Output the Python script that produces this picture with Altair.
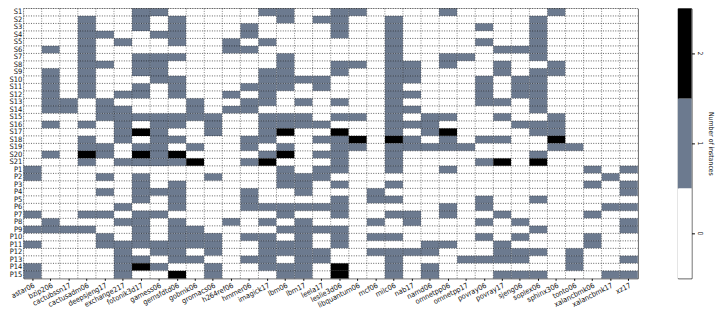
import altair as alt
import pandas as pd

benchmarks = ["astar06", "bzip206", "cactubssn17", "cactusadm06", "deepsjeng17",
              "exchange217", "fotonik3d17", "gamess06", "gemsfdtd06", "gobmk06",
              "gromacs06", "h264ref06", "hmmer06", "imagick17", "lbm06", "lbm17",
              "leela17", "leslie3d06", "libquantum06", "mcf06", "milc06", "nab17",
              "namd06", "omnetpp06", "omnetpp17", "povray06", "povray17", "sjeng06",
              "soplex06", "sphinx306", "tonto06", "xalancbmk06", "xalancbmk17", "xz17"]

row_labels = ["S1", "S2", "S3", "S4", "S5", "S6", "S7", "S8", "S9", "S10", "S11",
              "S12", "S13", "S14", "S15", "S16", "S17", "S18", "S19", "S20", "S21",
              "P1", "P2", "P3", "P4", "P5", "P6", "P7", "P8", "P9", "P10", "P11",
              "P12", "P13", "P14", "P15"]

# number of instances per (row, benchmark); one string per row, one digit per benchmark
counts = [
    "00000 01100 00011 00110 00010 00001 0000",  # S1
    "00010 01010 00001 01100 10000 00010 0000",  # S2
    "00010 01010 00100 00100 10000 10010 0000",  # S3
    "00011 00110 00100 00100 10000 00010 0000",  # S4
    "00010 10010 01010 00000 10000 10010 0000",  # S5
    "01010 00000 01100 00000 10000 01110 0000",  # S6
    "00010 01110 00001 00000 10011 00010 0000",  # S7
    "00011 01100 00001 00110 11010 01001 0000",  # S8
    "01010 01100 00011 00100 11000 01011 0000",  # S9
    "01010 00110 00011 11000 11000 10110 0000",  # S10
    "01010 01010 00111 01000 10000 10110 0000",  # S11
    "01010 11010 01010 00000 11000 10110 0000",  # S12
    "01101 00001 00110 10100 10000 11010 0000",  # S13
    "01101 10001 01100 00000 11000 00010 0000",  # S14
    "00001 11111 10011 10110 10110 01001 0000",  # S15
    "01010 10110 10011 11000 11100 00111 0000",  # S16
    "00000 12100 10012 00200 10120 00011 0000",  # S17
    "00010 10110 00110 01120 21010 11002 0000",  # S18
    "00011 01101 00101 00110 11111 00001 1000",  # S19
    "01021 02120 00012 01100 10000 00010 0000",  # S20
    "00010 11112 00120 00100 10000 12020 0000",  # S21
    "10000 00000 00001 01100 10010 00000 0101",  # P1
    "10001 01000 10001 11000 00000 00000 0010",  # P2
    "00000 01010 00001 10100 10000 00000 0101",  # P3
    "00001 01110 00100 10001 00000 00000 0001",  # P4
    "00000 01010 00100 00101 10000 10010 0000",  # P5
    "00000 10010 00111 11100 00010 10000 0011",  # P6
    "10011 01100 00001 00100 11010 01000 0100",  # P7
    "01000 11010 01010 10001 01000 10100 0001",  # P8
    "11110 01011 00001 11100 00000 00010 0001",  # P9
    "00001 01011 10110 10101 10000 10100 0100",  # P10
    "10001 11111 10011 10100 00110 01000 0100",  # P11
    "00000 10110 10011 11001 11100 01110 1000",  # P12
    "00000 11011 00110 11000 10001 11100 1001",  # P13
    "10000 12100 10011 10200 10100 00000 1000",  # P14
    "10000 10020 10001 10200 10100 01110 0011",  # P15
]

levels = [0, 1, 2]
level_colors = ["#ffffff", "#6c7a8f", "#000000"]

records = []
for r, s in zip(row_labels, counts):
    digits = s.replace(" ", "")
    for b, d in zip(benchmarks, digits):
        records.append({"row": r, "bench": b, "count": int(d)})
df = pd.DataFrame(records)

W, H = 628, 276
FONT = "DejaVu Sans Condensed, DejaVu Sans"

xs = alt.Scale(domain=benchmarks, paddingInner=0, paddingOuter=0)
ys = alt.Scale(domain=row_labels, paddingInner=0, paddingOuter=0)
cs = alt.Scale(domain=levels, range=level_colors)

cells = alt.Chart(df).mark_rect().encode(
    x=alt.X("bench:N", scale=xs,
            axis=alt.Axis(title=None, labelAngle=-27, labelAlign="right",
                          labelBaseline="top", labelFontSize=7.5, tickSize=2,
                          labelPadding=1, domain=False, grid=False)),
    y=alt.Y("row:N", scale=ys,
            axis=alt.Axis(title=None, labelFontSize=7.6, tickSize=0,
                          labelPadding=2, domain=False, grid=False)),
    color=alt.Color("count:O", scale=cs, legend=None),
)

vgrid = alt.Chart(pd.DataFrame({"bench": benchmarks})).mark_rule(
    color="#222222", strokeDash=[1, 1.5], strokeWidth=0.8, opacity=0.7
).encode(
    x=alt.X("bench:N", scale=xs, bandPosition=0),
    y=alt.value(0), y2=alt.value("height"),
)

hgrid = alt.Chart(pd.DataFrame({"row": row_labels})).mark_rule(
    color="black", strokeDash=[1, 1.5], strokeWidth=0.8, opacity=0.8
).encode(
    y=alt.Y("row:N", scale=ys, bandPosition=0),
    x=alt.value(0), x2=alt.value("width"),
)

heat = alt.layer(cells, vgrid, hgrid).properties(width=W, height=H)

cbar = alt.Chart(pd.DataFrame({"level": levels})).mark_rect().encode(
    y=alt.Y("level:O", sort="descending",
            scale=alt.Scale(paddingInner=0, paddingOuter=0),
            axis=alt.Axis(orient="right", title="Number of instances",
                          titleAngle=90, titleFontSize=7, titleFontWeight="normal",
                          titlePadding=4, labelAngle=90, labelAlign="center",
                          labelBaseline="bottom", labelFontSize=7,
                          tickSize=3, labelPadding=2, domain=False)),
    x=alt.value(0), x2=alt.value("width"),
    color=alt.Color("level:O", scale=cs, legend=None),
).properties(width=14, height=H)

chart = alt.hconcat(heat, cbar, spacing=39).properties(
    padding={"left": 0, "top": -5, "right": 0, "bottom": 0}
).configure_view(stroke="#444444", strokeWidth=1).configure_axis(
    labelFont=FONT, titleFont=FONT, labelColor="#111111", titleColor="#111111",
    tickColor="black"
)

chart.save("out.html", embed_options={"renderer": "svg", "actions": False})
